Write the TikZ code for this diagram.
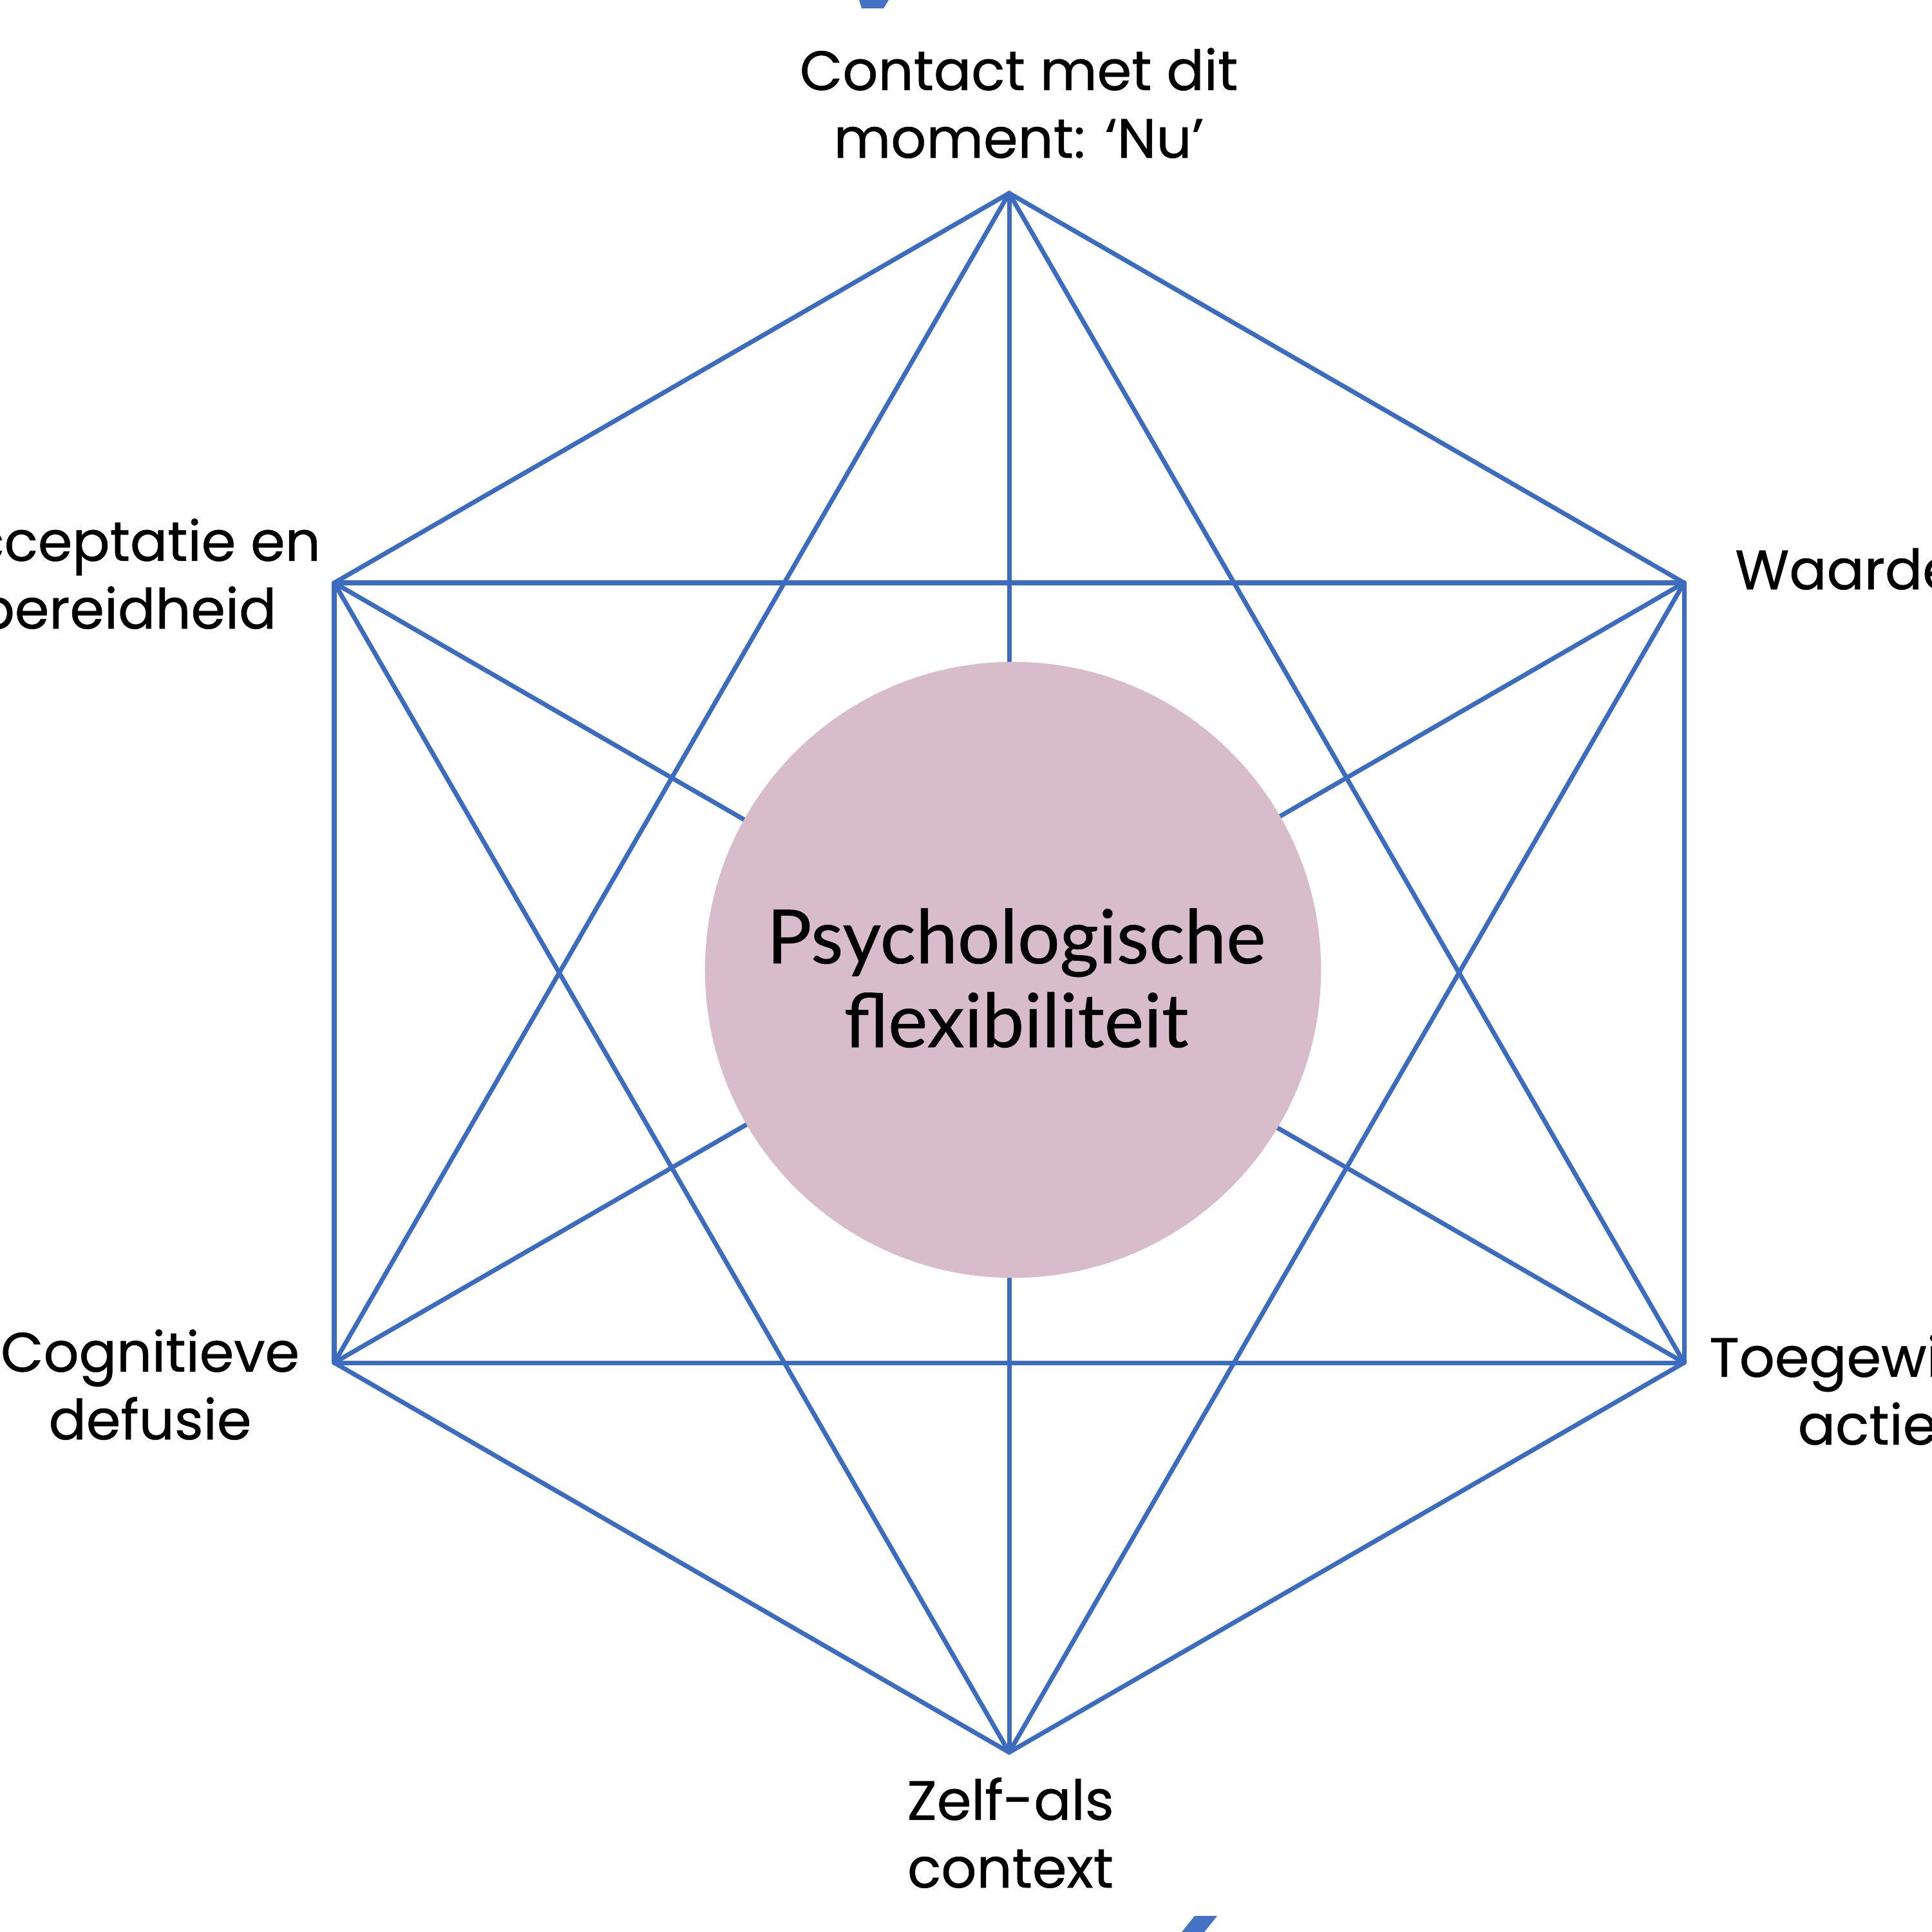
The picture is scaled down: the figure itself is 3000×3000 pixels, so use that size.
\documentclass[tikz,border=0pt]{standalone}
\usepackage{fontspec}
\setmainfont{Poppins}[FakeBold=0.6]
\newfontfamily\centerfont{Lato}[FakeBold=0.5]
\definecolor{hexblue}{HTML}{3B6CC0}
\definecolor{markblue}{HTML}{4472C4}
\definecolor{pinkfill}{HTML}{D8BCC9}
\begin{document}
\begin{tikzpicture}[x=0.01cm,y=-0.01cm,
  edge/.style={draw=hexblue,line width=2pt,line cap=round,line join=round},
  lbl/.style={align=center,font=\fontsize{24.5}{29.9}\selectfont,inner sep=0pt,text=black},
  core/.style={circle,fill=pinkfill,minimum size=9.56cm,inner sep=0pt},
  corelbl/.style={align=center,inner sep=0pt,font=\centerfont\fontsize{33}{37}\selectfont}]
\useasboundingbox (0,0) rectangle (3000,3000);
\fill[white] (0,0) rectangle (3000,3000);
% vertices
\coordinate (T)  at (1567,300);
\coordinate (UR) at (2615,905);
\coordinate (LR) at (2615,2116);
\coordinate (B)  at (1567,2721);
\coordinate (LL) at (519,2116);
\coordinate (UL) at (519,905);
% all connections
\foreach \a/\b in {T/UR,UR/LR,LR/B,B/LL,LL/UL,UL/T,
                   T/LR,LR/LL,LL/T,UR/B,B/UL,UL/UR,
                   T/B,UL/LR,UR/LL}
  \draw[edge] (\a) -- (\b);
% centre
\node[core] (flex) at (1573,1506) {};
\node[corelbl,anchor=base] (flextext) at (1578,1626) {Psychologische\\flexibiliteit};
% labels (anchor = baseline of last line)
\node[lbl,anchor=base] (nu) at (1582,245) {Contact met dit\\moment: ‘Nu’};
\node[lbl,anchor=base] (acc) at (197,976) {Acceptatie en\\bereidheid};
\node[lbl,anchor=base] (waa) at (2894,915) {Waarden};
\node[lbl,anchor=base] (cog) at (233,2235) {Cognitieve\\defusie};
\node[lbl,anchor=base] (toe) at (2900,2243) {Toegewijde\\actie};
\node[lbl,anchor=base] (zelf) at (1569,2931) {Zelf-als\\context};
% edge marks
\fill[markblue] (1334,0) -- (1380,0) -- (1372,13) -- (1338,13) -- cycle;
\fill[markblue] (1855,2975) -- (1890,2975) -- (1870,3000) -- (1835,3000) -- cycle;
\end{tikzpicture}
\end{document}
